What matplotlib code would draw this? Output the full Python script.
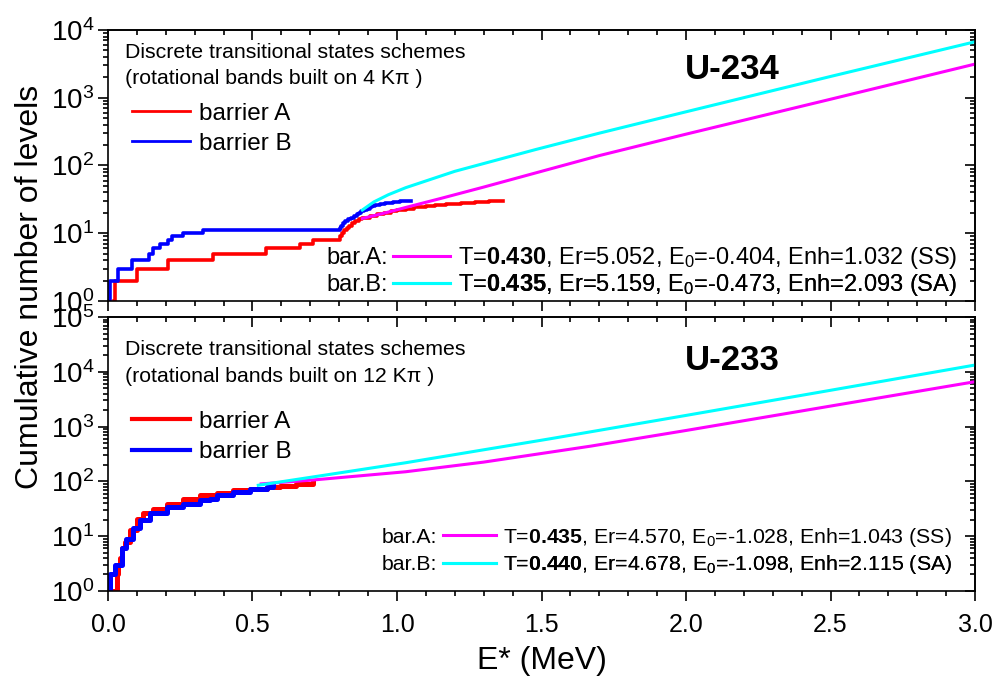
import matplotlib
matplotlib.use("Agg")
import matplotlib.pyplot as plt
from matplotlib.lines import Line2D
from matplotlib.ticker import LogLocator, MultipleLocator, NullFormatter

plt.rcParams["font.family"] = ["Liberation Sans", "DejaVu Sans"]
plt.rcParams["mathtext.fontset"] = "custom"
plt.rcParams["mathtext.rm"] = "Liberation Sans"
plt.rcParams["mathtext.it"] = "Liberation Sans:italic"
plt.rcParams["mathtext.bf"] = "Liberation Sans:bold"

RED, BLUE, MAG, CYAN = "#ff0000", "#0000ff", "#ff00ff", "#00ffff"

# U-234, discrete levels (cumulative), barrier A and B
e234_a = [0.020, 0.024, 0.099, 0.208, 0.363, 0.546, 0.664, 0.709, 0.803, 0.810,
          0.818, 0.826, 0.835, 0.845, 0.855, 0.867, 0.880, 0.905, 0.930, 0.955,
          0.980, 1.000, 1.030, 1.060, 1.100, 1.130, 1.170, 1.220, 1.270, 1.320,
          1.367]
n234_a = [1, 2, 3, 4, 5, 6, 7, 8, 9, 10, 11, 12, 13, 14, 15, 16, 17, 18, 19, 20,
          21, 22, 23, 24, 25, 26, 27, 28, 29, 30, 30]
e234_b = [0.003, 0.007, 0.036, 0.082, 0.143, 0.157, 0.180, 0.209, 0.220, 0.261,
          0.330, 0.803, 0.806, 0.812, 0.820, 0.830, 0.840, 0.850, 0.860, 0.868,
          0.876, 0.885, 0.895, 0.905, 0.915, 0.925, 0.940, 0.960, 0.985, 1.010,
          1.050]
n234_b = [1, 2, 3, 4, 5, 6, 7, 8, 9, 10, 11, 12, 13, 14, 15, 16, 17, 18, 19, 20,
          21, 22, 23, 24, 25, 26, 27, 28, 29, 30, 30]

# U-234, level density model
e234_fa = [0.88, 0.95, 1.03, 1.15, 1.30, 1.50, 1.70, 2.00, 2.50, 3.00]
n234_fa = [16.5, 19.5, 24, 32.5, 48, 82, 140, 290, 950, 3140]
e234_fb = [0.88, 0.92, 0.97, 1.03, 1.20, 1.48, 1.70, 2.00, 2.50, 3.00]
n234_fb = [22, 29, 37, 47, 82, 172, 300, 620, 2060, 6700]

# U-233, discrete levels (cumulative)
e233_a = [0.024, 0.030, 0.036, 0.041, 0.047, 0.059, 0.076, 0.099, 0.122, 0.157,
          0.203, 0.261, 0.318, 0.376, 0.434, 0.491, 0.549, 0.595, 0.650, 0.710]
n233_a = [1, 2, 3, 4, 6, 8, 13, 21, 26, 32, 39, 48, 56, 62, 69, 74, 79, 83, 88, 93]
e233_b = [0.006, 0.007, 0.024, 0.047, 0.064, 0.087, 0.110, 0.145, 0.203, 0.261,
          0.318, 0.353, 0.376, 0.434, 0.491, 0.549, 0.572]
n233_b = [1, 2, 3, 6, 9, 14, 20, 26, 34, 39, 45, 48, 56, 64, 74, 79, 82]

# U-233, level density model
e233_fa = [0.53, 0.70, 1.03, 1.30, 1.67, 2.00, 2.50, 3.00]
n233_fa = [90, 105, 150, 225, 440, 850, 2370, 6600]
e233_fb = [0.52, 0.75, 1.03, 1.53, 2.00, 2.50, 3.00]
n233_fb = [85, 130, 219, 600, 1600, 4600, 13300]

fit_labels_234 = [r"T=$\mathbf{0.430}$, Er=5.052, E$_0$=-0.404, Enh=1.032 (SS)",
                  r"T=$\mathbf{0.435}$, Er=5.159, E$_0$=-0.473, Enh=2.093 (SA)"]
fit_labels_233 = [r"T=$\mathbf{0.435}$, Er=4.570, E$_0$=-1.028, Enh=1.043 (SS)",
                  r"T=$\mathbf{0.440}$, Er=4.678, E$_0$=-1.098, Enh=2.115 (SA)"]

fig = plt.figure(figsize=(9.98, 6.8), dpi=100)
ax1 = fig.add_axes([0.1082, 0.5574, 0.8688, 0.3985])
ax2 = fig.add_axes([0.1082, 0.1309, 0.8688, 0.4029])


def one_entry(ax, color, lw, label, x, y, size, hlen):
    h = Line2D([], [], color=color, lw=lw)
    lg = ax.legend([h], [label], loc="center left", bbox_to_anchor=(x, y),
                   frameon=False, fontsize=size, handlelength=hlen,
                   handletextpad=0.35, borderpad=0, borderaxespad=0)
    ax.add_artist(lg)


def style(ax, ymax, show_x):
    ax.set_xlim(0, 3.0)
    ax.set_yscale("log")
    ax.set_ylim(1, ymax)
    ax.xaxis.set_major_locator(MultipleLocator(0.5))
    ax.xaxis.set_minor_locator(MultipleLocator(0.1))
    ax.yaxis.set_major_locator(LogLocator(base=10, numticks=10))
    ax.yaxis.set_minor_locator(LogLocator(base=10, subs=range(2, 10), numticks=20))
    ax.yaxis.set_minor_formatter(NullFormatter())
    ax.tick_params(which="both", direction="out", width=1.2)
    ax.tick_params(which="major", length=7)
    ax.tick_params(which="minor", length=3.5)
    ax.tick_params(axis="y", labelsize=20, pad=3)
    ax.tick_params(axis="x", labelsize=18, pad=9)
    if not show_x:
        ax.tick_params(axis="x", labelbottom=False)
    else:
        ax.xaxis.set_major_formatter(lambda v, p: f"{v:.1f}")
    for s in ax.spines.values():
        s.set_linewidth(1.2)
    top = ax.secondary_xaxis("top")
    top.xaxis.set_major_locator(MultipleLocator(0.5))
    top.xaxis.set_minor_locator(MultipleLocator(0.1))
    top.tick_params(which="both", direction="in", width=1.2, labeltop=False)
    top.tick_params(which="major", length=7)
    top.tick_params(which="minor", length=3.5)
    right = ax.secondary_yaxis("right")
    right.yaxis.set_major_locator(LogLocator(base=10, numticks=10))
    right.yaxis.set_minor_locator(LogLocator(base=10, subs=range(2, 10), numticks=20))
    right.tick_params(which="both", direction="in", width=1.2, labelright=False)
    right.tick_params(which="major", length=7)
    right.tick_params(which="minor", length=3.5)
    for s in list(top.spines.values()) + list(right.spines.values()):
        s.set_linewidth(1.2)


# top panel: U-234
ax1.step(e234_a, n234_a, where="post", color=RED, lw=2.6)
ax1.step(e234_b, n234_b, where="post", color=BLUE, lw=2.6)
ax1.plot(e234_fa, n234_fa, color=MAG, lw=2.2)
ax1.plot(e234_fb, n234_fb, color=CYAN, lw=2.2)
style(ax1, 1e4, False)
ax1.text(0.02, 0.918, "Discrete transitional states schemes", transform=ax1.transAxes,
         fontsize=15.3, va="center")
ax1.text(0.02, 0.822, "(rotational bands built on 4 K\u03c0 )", transform=ax1.transAxes,
         fontsize=15.3, va="center")
ax1.text(0.72, 0.855, "U-234", transform=ax1.transAxes, fontsize=25,
         fontweight="bold", ha="center", va="center")
one_entry(ax1, RED, 2.0, "barrier A", 0.0277, 0.691, 17.5, 2.4)
one_entry(ax1, BLUE, 2.0, "barrier B", 0.0277, 0.581, 17.5, 2.4)
one_entry(ax1, MAG, 2.2, fit_labels_234[0], 0.329, 0.158, 17, 2.4)
one_entry(ax1, CYAN, 2.2, fit_labels_234[1], 0.329, 0.059, 17, 2.4)
ax1.text(0.323, 0.158, "bar.A:", transform=ax1.transAxes, fontsize=17,
         ha="right", va="center")
ax1.text(0.323, 0.059, "bar.B:", transform=ax1.transAxes, fontsize=17,
         ha="right", va="center")

# bottom panel: U-233
ax2.step(e233_a, n233_a, where="post", color=RED, lw=3.6)
ax2.step(e233_b, n233_b, where="post", color=BLUE, lw=3.6)
ax2.plot(e233_fa, n233_fa, color=MAG, lw=2.2)
ax2.plot(e233_fb, n233_fb, color=CYAN, lw=2.2)
style(ax2, 1e5, True)
ax2.text(0.02, 0.88, "Discrete transitional states schemes", transform=ax2.transAxes,
         fontsize=15.3, va="center")
ax2.text(0.02, 0.783, "(rotational bands built on 12 K\u03c0 )", transform=ax2.transAxes,
         fontsize=15.3, va="center")
ax2.text(0.72, 0.84, "U-233", transform=ax2.transAxes, fontsize=25,
         fontweight="bold", ha="center", va="center")
one_entry(ax2, RED, 3.0, "barrier A", 0.0277, 0.617, 17.5, 2.4)
one_entry(ax2, BLUE, 3.0, "barrier B", 0.0277, 0.507, 17.5, 2.4)
one_entry(ax2, MAG, 2.2, fit_labels_233[0], 0.386, 0.197, 15.3, 2.5)
one_entry(ax2, CYAN, 2.2, fit_labels_233[1], 0.386, 0.095, 15.3, 2.5)
ax2.text(0.380, 0.197, "bar.A:", transform=ax2.transAxes, fontsize=15.3,
         ha="right", va="center")
ax2.text(0.380, 0.095, "bar.B:", transform=ax2.transAxes, fontsize=15.3,
         ha="right", va="center")

ax2.set_xlabel("E* (MeV)", fontsize=23, labelpad=6)
fig.text(0.03, 0.578, "Cumulative number of levels", rotation=90, fontsize=23,
         ha="center", va="center")

fig.savefig("out.png", dpi=100)
